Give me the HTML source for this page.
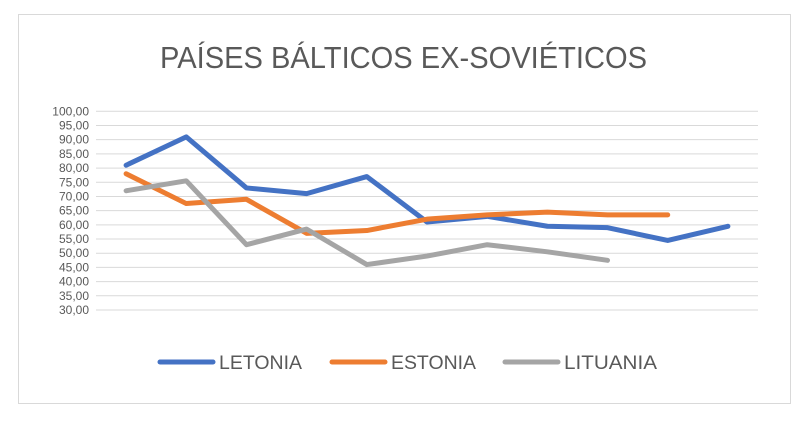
<!DOCTYPE html>
<html><head><meta charset="utf-8"><style>
body{margin:0;background:#fff;font-family:"Liberation Sans",sans-serif}
</style></head><body>
<svg id="c" width="810" height="418">
<rect x="18.5" y="14.5" width="772" height="389" fill="#fff" stroke="#d9d9d9"/>
<text x="160" y="68" font-size="31" fill="#595959" textLength="487" lengthAdjust="spacingAndGlyphs">PAÍSES BÁLTICOS EX-SOVIÉTICOS</text>
<g id="grid"></g><g id="lines"></g><g id="legend"></g>
</svg>
<script>
const letonia=[81,91,73,71,77,61,63,59.5,59,54.5,59.5];
const estonia=[78,67.5,69,57,58,62,63.5,64.5,63.5,63.5];
const lituania=[72,75.5,53,58.5,46,49,53,50.5,47.5];
const ticks=[30,35,40,45,50,55,60,65,70,75,80,85,90,95,100];
const nCat=11;
const NS="http://www.w3.org/2000/svg";
const L=96,R=758,T=111.3,B=310;
const y=v=>B-(v-30)/70*(B-T);
const x=i=>L+(i+0.5)*(R-L)/nCat;
const g=document.getElementById('grid');
ticks.forEach(t=>{
 const ln=document.createElementNS(NS,'line');
 ln.setAttribute('x1',L);ln.setAttribute('x2',R);ln.setAttribute('y1',y(t));ln.setAttribute('y2',y(t));
 ln.setAttribute('stroke','#d9d9d9');ln.setAttribute('stroke-width','1');
 
 
 g.appendChild(ln);
 const tx=document.createElementNS(NS,'text');
 tx.setAttribute('x',89);tx.setAttribute('y',y(t)+4);tx.setAttribute('text-anchor','end');
 tx.setAttribute('font-size','12');tx.setAttribute('fill','#595959');
 tx.textContent=t.toFixed(2).replace('.',',');
 
 
 g.appendChild(tx);
});
const series=[['letonia',letonia,'#4472c4','LETONIA'],['estonia',estonia,'#ed7d31','ESTONIA'],['lituania',lituania,'#a5a5a5','LITUANIA']];
const lg=document.getElementById('lines');
series.forEach(s=>{
 const p=document.createElementNS(NS,'polyline');
 p.setAttribute('points',s[1].map((v,i)=>x(i)+','+y(v)).join(' '));
 p.setAttribute('fill','none');p.setAttribute('stroke',s[2]);p.setAttribute('stroke-width','5');
 p.setAttribute('stroke-linejoin','round');p.setAttribute('stroke-linecap','round');
 
 
 lg.appendChild(p);
});
const leg=document.getElementById('legend');
const lx=[160,332,505];
const tl=[83,85,93];
series.forEach((s,i)=>{
 const ln=document.createElementNS(NS,'line');
 ln.setAttribute('x1',lx[i]);ln.setAttribute('x2',lx[i]+53);ln.setAttribute('y1',362);ln.setAttribute('y2',362);
 ln.setAttribute('stroke',s[2]);ln.setAttribute('stroke-width','5');ln.setAttribute('stroke-linecap','round');
 
 
 leg.appendChild(ln);
 const tx=document.createElementNS(NS,'text');
 tx.setAttribute('x',lx[i]+59);tx.setAttribute('y',369);tx.setAttribute('font-size','19');tx.setAttribute('fill','#595959');
 tx.setAttribute('textLength',tl[i]);tx.setAttribute('lengthAdjust','spacingAndGlyphs');
 tx.textContent=s[3];
 
 
 leg.appendChild(tx);
});
</script>
</body></html>
